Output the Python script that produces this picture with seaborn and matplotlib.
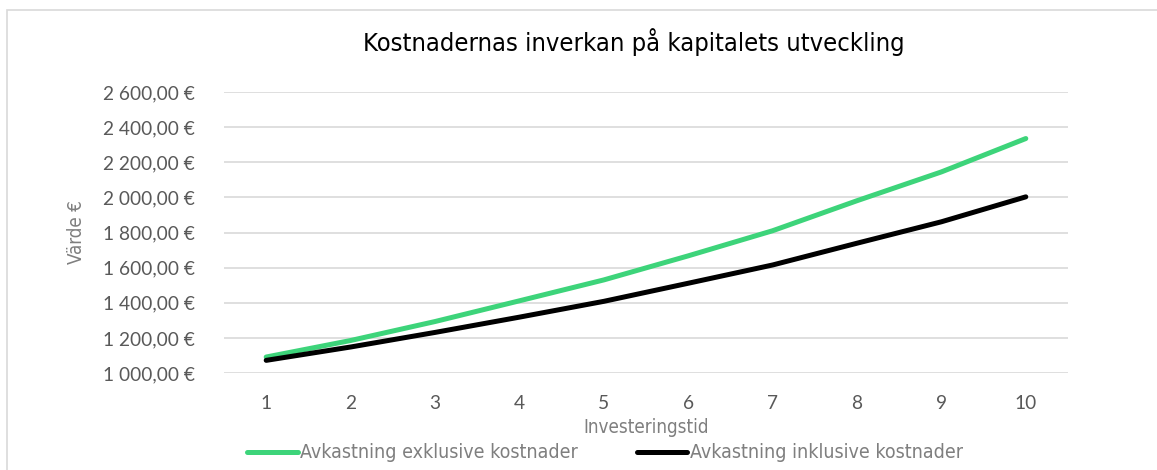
import matplotlib
matplotlib.use("Agg")
import matplotlib.pyplot as plt
from matplotlib import font_manager
from matplotlib.patches import Rectangle
from matplotlib.ticker import FuncFormatter
import seaborn as sns
import pandas as pd

# Values
years = [1, 2, 3, 4, 5, 6, 7, 8, 9, 10]
excl_costs = [1091, 1185, 1293, 1411, 1530, 1667, 1810, 1981, 2145, 2335]
incl_costs = [1072, 1148, 1231, 1318, 1408, 1511, 1615, 1739, 1861, 2003]
series_names = ["Avkastning exklusive kostnader", "Avkastning inklusive kostnader"]
y_ticks = [1000, 1200, 1400, 1600, 1800, 2000, 2200, 2400, 2600]

df = pd.DataFrame({
    "year": years * 2,
    "value": excl_costs + incl_costs,
    "series": [series_names[0]] * len(years) + [series_names[1]] * len(years),
})

sns.set_theme(style="white")
plt.rcParams["font.family"] = ["Lato", "DejaVu Sans"]
narrow = font_manager.FontProperties(family=["DejaVu Sans"], stretch="condensed")

fig = plt.figure(figsize=(11.57, 4.70), dpi=100)
ax = fig.add_axes([224 / 1157, 1 - 373 / 470, (1068 - 224) / 1157, (373 - 92) / 470])

# chart frame (right and bottom edges are cut off in the reference)
fig.patches.append(Rectangle((7 / 1157, -0.1), 1.2, 1.1 - 10 / 470, transform=fig.transFigure,
                             fill=False, edgecolor="#d9d9d9", linewidth=1.2))

palette = {series_names[0]: "#3dd47a", series_names[1]: "#000000"}
sns.lineplot(data=df, x="year", y="value", hue="series", palette=palette,
             linewidth=3.6, ax=ax, legend=False, solid_capstyle="round")

ax.set_xlim(0.5, 10.5)
ax.set_ylim(1000, 2600)
ax.set_xticks(years)
ax.set_yticks(y_ticks)
ax.yaxis.set_major_formatter(FuncFormatter(
    lambda v, p: f"{int(v) // 1000} {int(v) % 1000:03d},00 €"))
ax.grid(axis="y", color="#d9d9d9", linewidth=1.2)
ax.grid(axis="x", visible=False)
ax.set_axisbelow(True)
for s in ax.spines.values():
    s.set_visible(False)
ax.tick_params(axis="both", length=0, labelsize=13.8, labelcolor="#595959")
ax.tick_params(axis="y", pad=21)
ax.tick_params(axis="x", pad=16)

lab = narrow.copy()
lab.set_size(13.5)
ax.set_xlabel("Investeringstid", fontproperties=lab, color="#7f7f7f", labelpad=4)
ax.set_ylabel("Värde €", fontproperties=lab, color="#7f7f7f", labelpad=12)

tp = narrow.copy()
tp.set_size(18.3)
fig.text(634 / 1157, 1 - 42 / 470, "Kostnadernas inverkan på kapitalets utveckling",
         fontproperties=tp, color="#000000", ha="center", va="center")

handles = [plt.Line2D([0], [0], color=palette[n], linewidth=3.6, solid_capstyle="round")
           for n in series_names]
lp = narrow.copy()
lp.set_size(14)
fig.legend(handles, series_names, loc="center", bbox_to_anchor=(605 / 1157, 1 - 453 / 470),
           ncol=2, frameon=False, handlelength=2.6, handletextpad=0.15, columnspacing=3.0,
           prop=lp, labelcolor="#7f7f7f")

fig.savefig("out.png", dpi=100)
